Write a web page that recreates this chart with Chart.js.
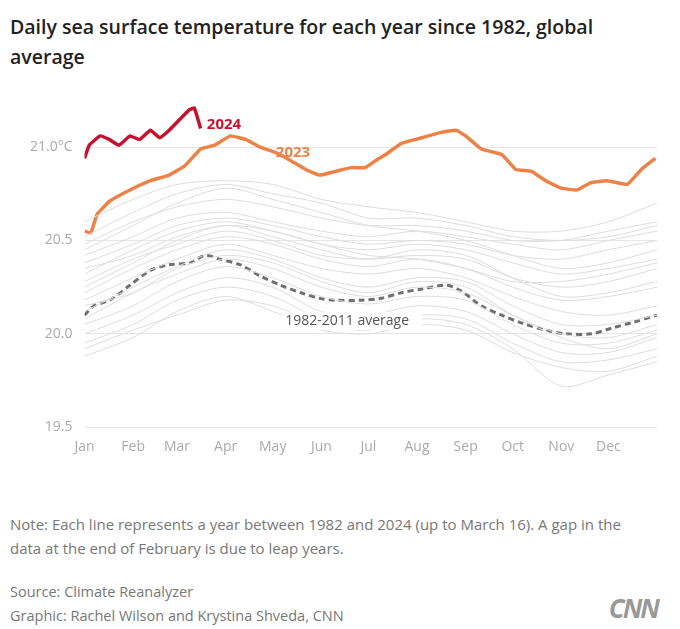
<!DOCTYPE html>
<html><head><meta charset="utf-8">
<script src="https://cdn.jsdelivr.net/npm/chart.js@4"></script>
<style>
body{margin:0;background:#fff;font-family:"Open Sans",Arial,sans-serif;width:680px;height:629px;position:relative;overflow:hidden}
h1{position:absolute;left:10px;top:12px;margin:0;font-size:19.5px;line-height:30px;font-weight:600;color:#222;width:640px}
#wrap{position:absolute;left:0;top:80px;width:670px;height:378px}
.note{position:absolute;left:10px;top:512px;font-size:15px;line-height:24px;color:#777;width:625px}
.src{position:absolute;left:10px;top:580px;font-size:14.5px;line-height:24px;color:#777}
.logo{position:absolute;right:22px;top:590px;font-size:26px;font-weight:bold;font-style:italic;color:#999;letter-spacing:-2px}
</style></head><body>
<h1>Daily sea surface temperature for each year since 1982, global average</h1>
<div id="wrap"><canvas id="c"></canvas></div>
<div class="note">Note: Each line represents a year between 1982 and 2024 (up to March 16). A gap in the data at the end of February is due to leap years.</div>
<div class="src">Source: Climate Reanalyzer<br>Graphic: Rachel Wilson and Krystina Shveda, CNN</div>
<div class="logo">CNN</div>
<script>
const monthLabels = ["Jan","Feb","Mar","Apr","May","Jun","Jul","Aug","Sep","Oct","Nov","Dec"];
const monthStarts = [0,31,59,90,120,151,181,212,243,273,304,334];

const days2023 = [0,4,8,16,29,42,54,64,74,83,93,103,112,122,131,141,150,160,170,179,186,192,202,215,228,237,243,253,266,275,285,294,304,314,323,333,346,355,364];
const temps2023 = [20.55,20.54,20.64,20.71,20.77,20.82,20.85,20.90,20.99,21.01,21.06,21.04,21.0,20.97,20.93,20.88,20.85,20.87,20.89,20.89,20.93,20.96,21.02,21.05,21.08,21.09,21.06,20.99,20.96,20.88,20.87,20.82,20.78,20.77,20.81,20.82,20.80,20.88,20.94];

const days2024 = [0,3,10,16,22,29,35,42,48,54,61,67,70,74];
const temps2024 = [20.94,21.01,21.06,21.04,21.01,21.06,21.04,21.09,21.05,21.09,21.15,21.20,21.21,21.10];

const daysAvg = [0,6,16,29,42,54,67,77,86,99,112,125,138,150,160,176,189,202,215,231,240,253,266,278,294,307,323,336,349,365];
const tempsAvg = [20.10,20.15,20.18,20.26,20.34,20.37,20.38,20.42,20.40,20.37,20.31,20.26,20.22,20.19,20.18,20.18,20.19,20.22,20.24,20.26,20.23,20.15,20.10,20.06,20.02,20.00,20.00,20.03,20.06,20.10];

// other years, sampled at month starts + year end
const grayDays = [0,31,59,90,120,151,181,212,243,273,304,334,365];
const grayYears = [
  [19.88,19.98,20.12,20.20,20.12,20.02,20.00,20.05,20.02,19.90,19.82,19.80,19.88],
  [19.95,20.05,20.18,20.25,20.20,20.08,20.05,20.10,20.08,19.95,19.85,19.86,19.92],
  [20.00,20.10,20.22,20.30,20.25,20.12,20.10,20.15,20.12,20.00,19.90,19.90,19.98],
  [20.05,20.15,20.28,20.36,20.30,20.20,20.16,20.20,20.18,20.05,19.95,19.95,20.02],
  [20.08,20.22,20.32,20.40,20.35,20.25,20.20,20.25,20.22,20.10,20.00,19.98,20.05],
  [20.12,20.25,20.36,20.45,20.40,20.30,20.25,20.30,20.28,20.15,20.05,20.05,20.10],
  [20.18,20.30,20.40,20.48,20.42,20.35,20.32,20.35,20.30,20.20,20.12,20.10,20.15],
  [20.22,20.35,20.45,20.52,20.48,20.40,20.36,20.40,20.35,20.25,20.18,20.20,20.25],
  [20.28,20.40,20.48,20.55,20.50,20.42,20.40,20.42,20.40,20.30,20.25,20.28,20.35],
  [20.32,20.45,20.55,20.60,20.55,20.48,20.45,20.48,20.45,20.38,20.32,20.35,20.40],
  [20.38,20.48,20.58,20.62,20.58,20.52,20.48,20.50,20.48,20.42,20.40,20.45,20.50],
  [20.42,20.52,20.62,20.65,20.60,20.55,20.52,20.55,20.52,20.48,20.45,20.50,20.55],
  [20.48,20.60,20.68,20.72,20.68,20.62,20.58,20.58,20.55,20.50,20.50,20.55,20.60],
  [20.52,20.65,20.75,20.80,20.75,20.70,20.62,20.62,20.58,20.52,20.50,20.52,20.58],
  [20.60,20.72,20.80,20.82,20.80,20.72,20.68,20.65,20.60,20.55,20.55,20.60,20.70],
  [20.45,20.58,20.70,20.78,20.72,20.65,20.58,20.55,20.50,20.42,20.35,20.38,20.45],
  [20.15,20.22,20.35,20.42,20.38,20.28,20.22,20.28,20.25,20.10,19.98,19.92,20.00],
  [19.92,20.02,20.10,20.18,20.15,20.05,20.02,20.08,20.05,19.92,19.72,19.78,19.85],
  [20.25,20.38,20.50,20.58,20.52,20.45,20.40,20.45,20.42,20.30,20.20,20.22,20.28],
  [20.35,20.42,20.52,20.58,20.55,20.48,20.42,20.40,20.35,20.28,20.28,20.32,20.38]
];

const datasets = [];
grayYears.forEach(vals => datasets.push({
  data: grayDays.map((d,i)=>({x:d,y:vals[i]})),
  borderColor:"#dddddd", borderWidth:1, pointRadius:0, tension:0.3
}));
datasets.push({data:daysAvg.map((d,i)=>({x:d,y:tempsAvg[i]})),borderColor:"#707070",borderWidth:3,borderDash:[6,4],pointRadius:0,tension:0.3});
datasets.push({data:days2023.map((d,i)=>({x:d,y:temps2023[i]})),borderColor:"#ec8248",borderWidth:3.5,pointRadius:0,tension:0.1});
datasets.push({data:days2024.map((d,i)=>({x:d,y:temps2024[i]})),borderColor:"#c4122f",borderWidth:3.5,pointRadius:0,tension:0.1});

const labelPlugin = {
  id:"labels",
  afterDatasetsDraw(chart){
    const {ctx,scales:{x,y}} = chart;
    ctx.save();
    ctx.textBaseline="middle";
    ctx.font='bold 15px "Open Sans"';
    ctx.fillStyle="#c4122f"; ctx.fillText("2024", x.getPixelForValue(78), y.getPixelForValue(21.12));
    ctx.fillStyle="#ec8248"; ctx.fillText("2023", x.getPixelForValue(122), y.getPixelForValue(20.97));
    ctx.font='14px "Open Sans"';
    ctx.fillStyle="#fff"; ctx.fillRect(x.getPixelForValue(128)-3,y.getPixelForValue(20.07)-9,140,18);
    ctx.fillStyle="#555"; ctx.fillText("1982-2011 average", x.getPixelForValue(128), y.getPixelForValue(20.07));
    ctx.restore();
  }
};

new Chart(document.getElementById("c"), {
  type:"line",
  data:{datasets},
  plugins:[labelPlugin],
  options:{
    responsive:true, maintainAspectRatio:false, animation:false,
    layout:{padding:{left:18,right:13,top:0,bottom:0}},
    plugins:{legend:{display:false},tooltip:{enabled:false}},
    scales:{
      x:{type:"linear",min:0,max:365,
        afterBuildTicks(ax){ax.ticks=monthStarts.map(v=>({value:v}));},
        ticks:{autoSkip:false,maxRotation:0,color:"#aaa",font:{size:14,family:"Open Sans"},
          callback:(v)=>monthLabels[monthStarts.indexOf(v)]},
        grid:{display:false},border:{display:false}},
      y:{min:19.5,max:21.25,
        afterBuildTicks(ax){ax.ticks=[19.5,20.0,20.5,21.0].map(v=>({value:v}));},
        ticks:{color:"#aaa",font:{size:14,family:"Open Sans"},padding:12,
          callback:(v)=>v===21?"21.0°C":v.toFixed(1)},
        grid:{color:"#e6e6e6",drawTicks:false},border:{display:false}}
    }
  }
});
</script>
</body></html>
